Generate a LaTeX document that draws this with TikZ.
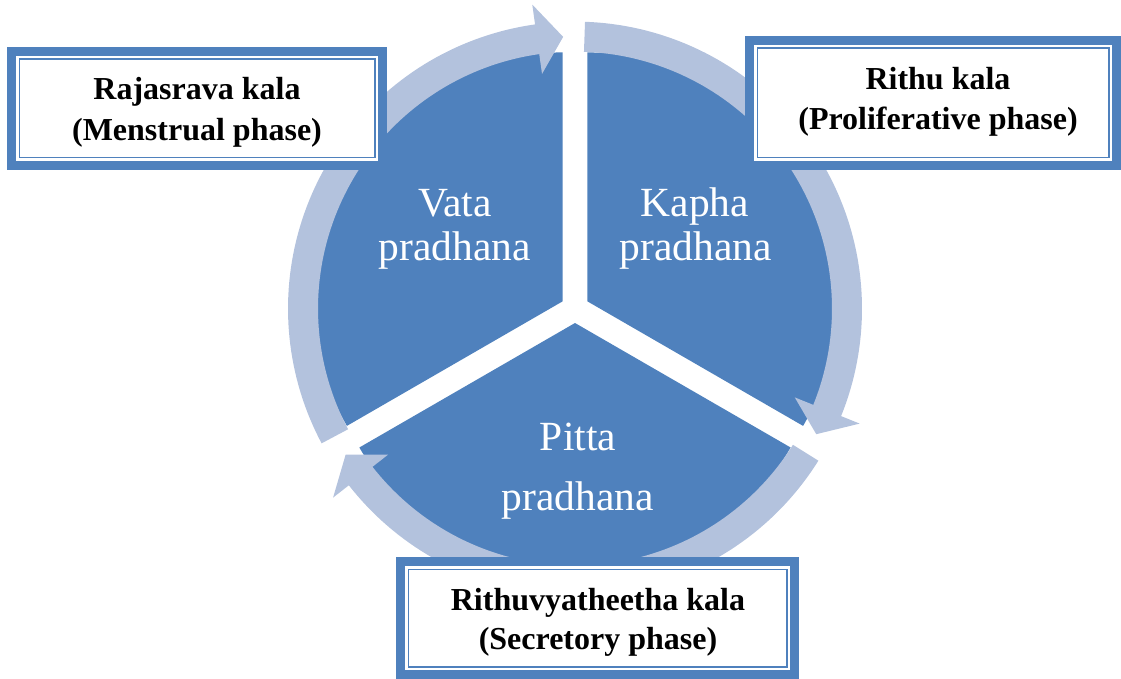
\documentclass[tikz,border=0pt]{standalone}
\usepackage{fontspec}
\setmainfont{Liberation Serif}
\definecolor{pieblue}{RGB}{79,129,189}
\definecolor{ringblue}{RGB}{179,194,221}
\newcommand\mysector[4]{% apex x, apex y, start angle, end angle
  \fill[pieblue] (#1,#2) -- plot[domain=#3:#4,samples=120] ({#1+249*cos(\x)},{#2-249*sin(\x)}) -- cycle;}
\newcommand\ringarrow[3]{% tail, head base, tip (math angles)
  \fill[ringblue] plot[domain=#1:#2,samples=80] ({575+287*cos(\x)},{308.6-287*sin(\x)})
   -- ({575+307*cos(#2)},{308.6-307*sin(#2)})
   -- ({575+272*cos(#3)},{308.6-272*sin(#3)})
   -- ({575+237*cos(#2)},{308.6-237*sin(#2)})
   -- plot[domain=#2:#1,samples=80] ({575+257*cos(\x)},{308.6-257*sin(\x)}) -- cycle;}
\newcommand\phasebox[4]{% x1 y1 x2 y2 (screen px)
  \fill[pieblue] (#1,#2) rectangle (#3,#4);
  \fill[white] ({#1+9},{#2+9}) rectangle ({#3-9},{#4-9});
  \draw[pieblue,line width=1.8pt] ({#1+12.4},{#2+12.4}) rectangle ({#3-12.4},{#4-12.4});}
\begin{document}
\begin{tikzpicture}[x=1pt,y=-1pt,
  boxtext/.style={font=\fontsize{32}{38}\selectfont\bfseries, text=black, anchor=base, inner sep=0pt},
  pietext/.style={font=\fontsize{41.5}{45}\selectfont, text=white, anchor=base, inner sep=0pt}]
\useasboundingbox (0,0) rectangle (1121,679);
% pie sectors (exploded)
\mysector{562.53}{301.4}{90}{210}
\mysector{587.47}{301.4}{-30}{90}
\mysector{575}{323}{210}{330}
% ring arrows
\ringarrow{208}{98}{92.5}
\ringarrow{88}{-22}{-27.5}
\ringarrow{-32}{-142}{-147.5}
% pie labels
\node[pietext] (v1) at (455,216.7) {Vata};
\node[pietext] (v2) at (455,260) {pradhana};
\node[pietext] (k1) at (695,216.7) {Kapha};
\node[pietext] (k2) at (696,260) {pradhana};
\node[pietext] (p1) at (578,450) {Pitta};
\node[pietext] (p2) at (578,510) {pradhana};
% boxes
\phasebox{7}{47}{387}{170}
\phasebox{745}{36}{1121}{170}
\phasebox{396}{557}{799}{679}
\node[boxtext] (r1) at (197,100) {Rajasrava kala};
\node[boxtext] (r2) at (197,141) {(Menstrual phase)};
\node[boxtext] (t1) at (938,90) {Rithu kala};
\node[boxtext] (t2) at (938,130) {(Proliferative phase)};
\node[boxtext] (s1) at (598,610) {Rithuvyatheetha kala};
\node[boxtext] (s2) at (598,649) {(Secretory phase)};
\end{tikzpicture}
\end{document}
